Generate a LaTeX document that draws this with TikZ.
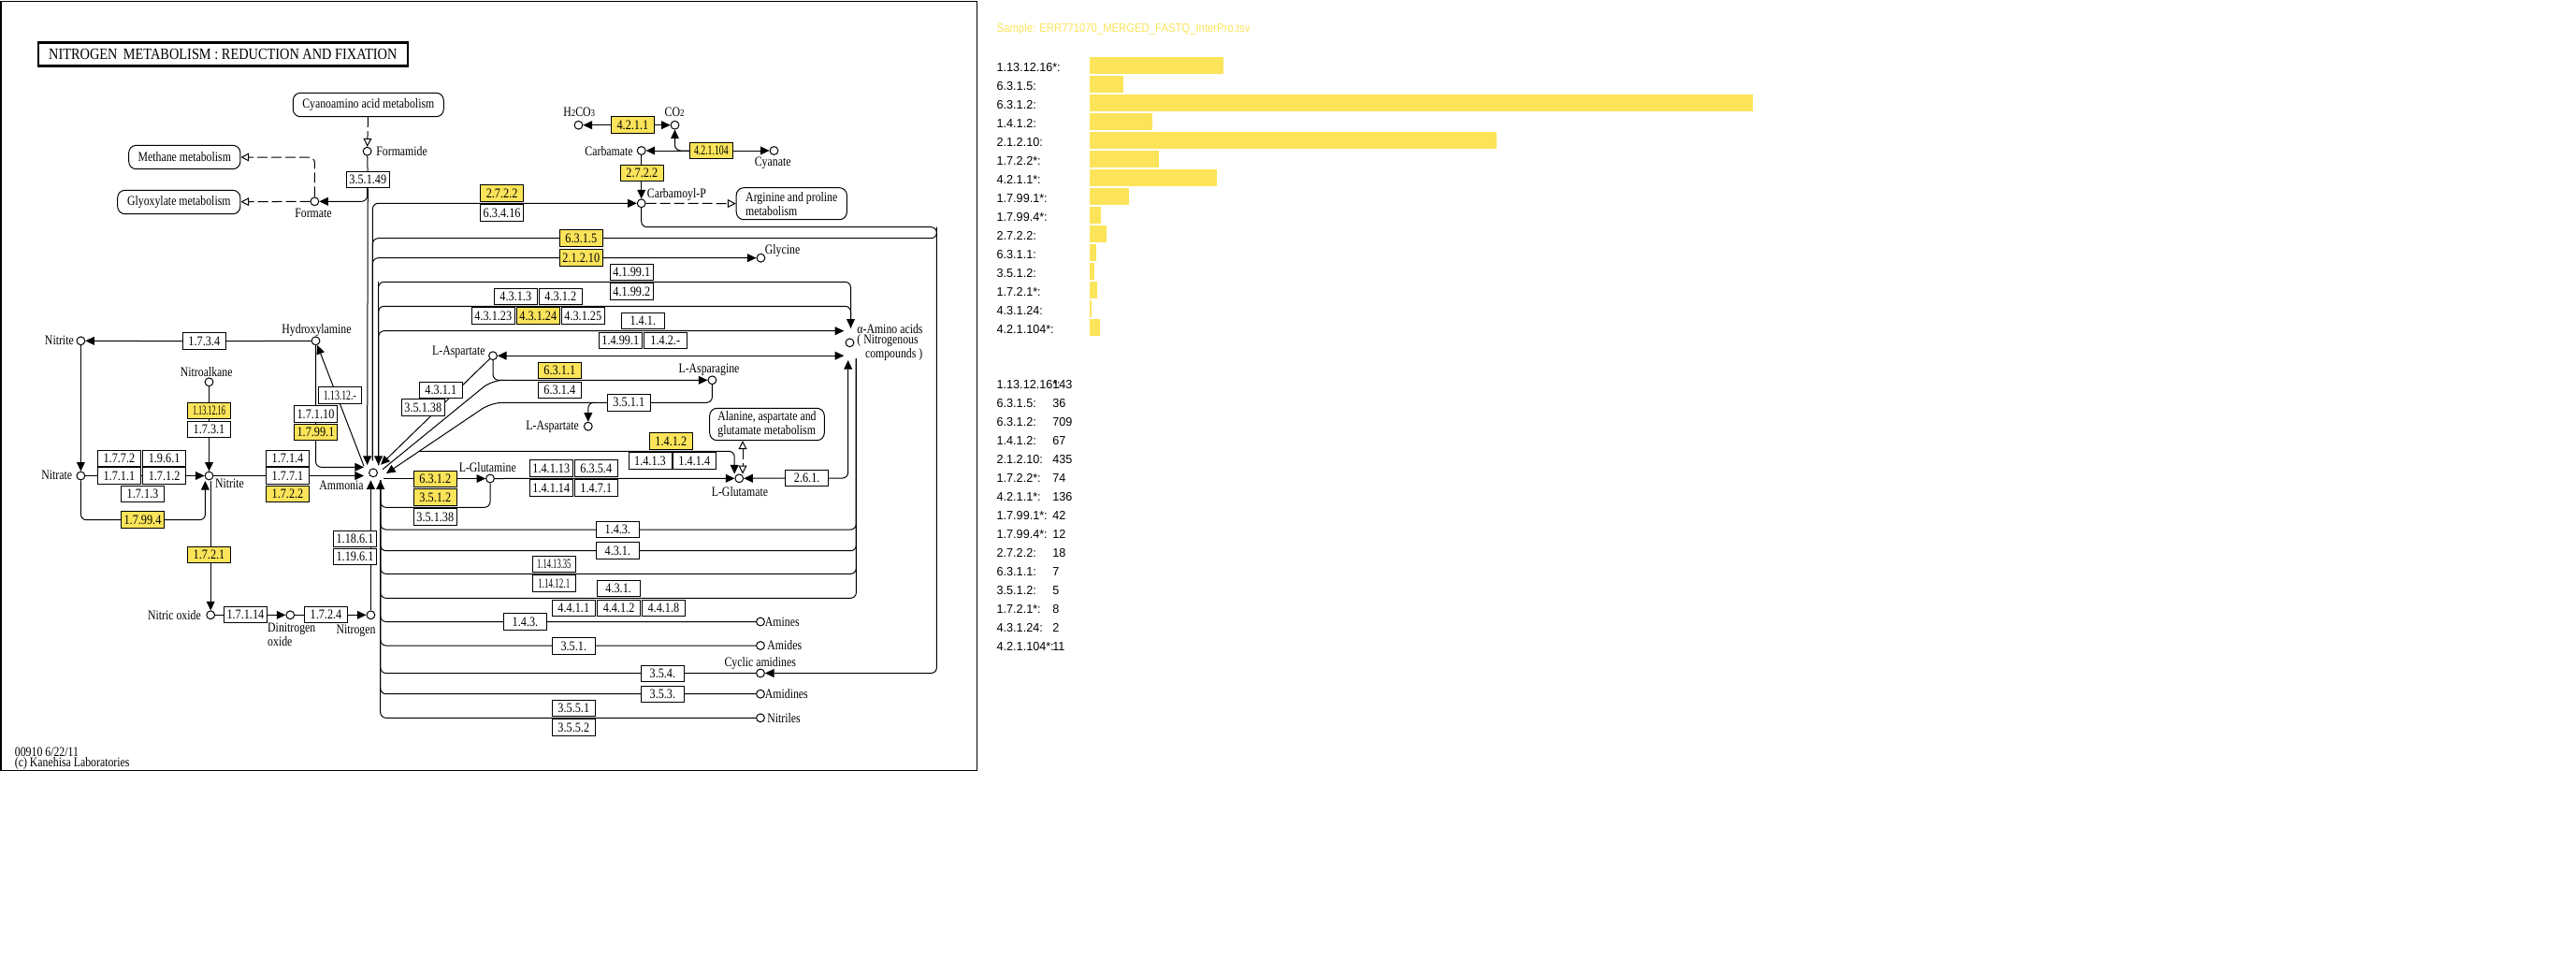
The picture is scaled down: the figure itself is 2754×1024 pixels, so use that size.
\documentclass[tikz,border=0pt]{standalone}
\usepackage{fontspec}
\setmainfont[FakeStretch=0.85]{Liberation Serif}
\newfontfamily\namefont[FakeStretch=0.82]{Liberation Serif}
\newfontfamily\panelfont[FakeStretch=0.87]{Liberation Sans}
\newfontfamily\codefont[FakeStretch=0.97]{Liberation Sans}
\usetikzlibrary{arrows.meta, backgrounds}
\definecolor{hitYellow}{RGB}{251, 228, 90}
\newcommand{\squeezed}[2]{\scalebox{#1}[1]{#2}}
\newcommand{\lowdigit}[1]{{\fontsize{5.4}{5.4}\selectfont #1}}
\tikzset{
    % Pathway boxes
    enzyme/.style={
        rectangle,
        draw=black,
        fill=white,
        line width=0.5pt,
        minimum width=23pt,
        minimum height=8.75pt,
        inner sep=0pt,
        font=\fontsize{7.2}{5.6}\selectfont
    },
    enzymeHit/.style={enzyme, fill=hitYellow},
    compound/.style={circle, draw=black, fill=white, line width=0.5pt, minimum size=4.4pt, inner sep=0pt},
    mapBox/.style={enzyme, rounded corners=4pt, minimum height=12.7pt, font=\namefont\fontsize{7.2}{5.6}\selectfont},
    nameText/.style={inner sep=0pt, font=\namefont\fontsize{7.2}{5.6}\selectfont},
    % Arrow styles
    line/.style={line width=0.5pt, rounded corners=3pt},
    arrow/.style={line, -{Triangle[length=4.8pt,width=4.4pt]}},
    both/.style={line, {Triangle[length=4.8pt,width=4.4pt]}-{Triangle[length=4.8pt,width=4.4pt]}},
    dashLine/.style={line, dash pattern=on 5.5pt off 2pt, -{Triangle[open,length=4.4pt,width=4.4pt,fill=white]}},
    % Side panel
    panelText/.style={inner sep=0pt, anchor=west, font=\codefont\fontsize{6.5}{6.5}\selectfont}
}
\begin{document}
\begin{tikzpicture}[x=0.5pt, y=-0.5pt]

    \useasboundingbox (0,0) rectangle (2754,1024);

    % --- FRAME AND TITLE ---
    \node (frame) [draw=black, line width=0.6pt, minimum width=521.7pt, minimum height=411.2pt, inner sep=0pt] at (522.7,412.4) {};
    \node (title) [draw=black, line width=1.3pt, minimum width=197.5pt, minimum height=12.4pt, inner sep=0pt, font=\fontsize{8.45}{8.45}\selectfont] at (238.3,58) {NITROGEN\, METABOLISM : REDUCTION AND FIXATION};
    \node (footer) [nameText, anchor=north west, align=left] at (15.5,798.5) {00910 6/22/11\\(c) Kanehisa Laboratories};

    % --- MAPS ---
    \node (cyanoMap) [mapBox, minimum width=80.5pt] at (393.8,112) {Cyanoamino acid metabolism};
    \node (methaneMap) [mapBox, minimum width=59.6pt] at (197.3,168) {Methane metabolism};
    \node (glyoxylateMap) [mapBox, minimum width=65.6pt] at (191.3,216) {Glyoxylate metabolism};
    \node (arginineMap) [mapBox, align=left, minimum width=59.1pt, minimum height=17pt] at (846.3,217.7) {Arginine and proline\\metabolism};
    \node (alanineMap) [mapBox, align=left, minimum width=61.3pt, minimum height=17.2pt] at (820,453.5) {Alanine, aspartate and\\glutamate metabolism};

    % --- COMPOUNDS ---
    \node (formamide) [compound] at (392.6,161.7) {};
    \node (formate) [compound] at (336.4,215.3) {};
    \node (nitriteA) [compound] at (86.4,364.3) {};
    \node (hydroxylamine) [compound] at (337.5,364.3) {};
    \node (nitroalkane) [compound] at (223.5,408.3) {};
    \node (aspartateA) [compound] at (527,380.2) {};
    \node (carbonicAcid) [compound] at (618.5,133.7) {};
    \node (carbonDioxide) [compound] at (721.5,133.7) {};
    \node (carbamate) [compound] at (685.7,161) {};
    \node (cyanate) [compound] at (827.5,161) {};
    \node (carbamoyl) [compound] at (685.7,217.3) {};
    \node (glycine) [compound] at (813.4,275.7) {};
    \node (aminoAcids) [compound] at (908.5,366.3) {};
    \node (asparagine) [compound] at (761.4,406.3) {};
    \node (aspartateB) [compound] at (628.8,455.7) {};
    \node (glutamate) [compound] at (790.3,511.3) {};
    \node (amines) [compound] at (813,664.5) {};
    \node (amides) [compound] at (813,690) {};
    \node (cyclicAmidines) [compound] at (813,719.5) {};
    \node (amidines) [compound] at (813,741.7) {};
    \node (nitriles) [compound] at (813,767.3) {};
    \node (nitrate) [compound] at (86.4,508.5) {};
    \node (nitriteB) [compound] at (223.5,508.5) {};
    \node (ammonia) [compound] at (399,505.3) {};
    \node (glutamine) [compound] at (524,511.5) {};
    \node (nitricOxide) [compound] at (225.2,657.3) {};
    \node (dinitrogenOxide) [compound] at (310.3,657.3) {};
    \node (nitrogen) [compound] at (396.4,657.3) {};

    % --- COMPOUND NAMES ---
    \node (tFormamide) [nameText, anchor=west] at (402,161.7) {Formamide};
    \node (tFormate) [nameText] at (335,228) {Formate};
    \node (tNitriteA) [nameText, anchor=east] at (79.2,364) {Nitrite};
    \node (tHydroxylamine) [nameText] at (338.5,352.7) {Hydroxylamine};
    \node (tNitroalkane) [nameText] at (220.7,397.7) {Nitroalkane};
    \node (tAspartateA) [nameText, anchor=east] at (519,376.7) {L-Aspartate};
    \node (tCarbonicAcid) [nameText] at (619.2,120) {H\lowdigit{2}CO\lowdigit{3}};
    \node (tCarbonDioxide) [nameText] at (721.1,120) {CO\lowdigit{2}};
    \node (tCarbamate) [nameText, anchor=east] at (677,161.7) {Carbamate};
    \node (tCyanate) [nameText] at (826.2,174) {Cyanate};
    \node (tCarbamoyl) [nameText, anchor=west] at (691.5,207.7) {Carbamoyl-P};
    \node (tGlycine) [nameText, anchor=west] at (817.5,268) {Glycine};
    \node (tAminoAcids) [nameText, anchor=west, align=left] at (916,366) {α-Amino acids\\( Nitrogenous\\\hspace*{4.3pt}compounds )};
    \node (tAsparagine) [nameText] at (758,395) {L-Asparagine};
    \node (tAspartateB) [nameText, anchor=east] at (619.2,456) {L-Aspartate};
    \node (tGlutamate) [nameText] at (791,526) {L-Glutamate};
    \node (tAmines) [nameText, anchor=west] at (817.5,664.7) {Amines};
    \node (tAmides) [nameText, anchor=west] at (820,690) {Amides};
    \node (tCyclicAmidines) [nameText] at (812.7,709) {Cyclic amidines};
    \node (tAmidines) [nameText, anchor=west] at (817.5,742) {Amidines};
    \node (tNitriles) [nameText, anchor=west] at (820,768) {Nitriles};
    \node (tNitrate) [nameText, anchor=east] at (77.5,507.7) {Nitrate};
    \node (tNitriteB) [nameText, anchor=west] at (229.7,516.7) {Nitrite};
    \node (tAmmonia) [nameText, anchor=east] at (389,519) {Ammonia};
    \node (tGlutamine) [nameText] at (521.3,499.7) {L-Glutamine};
    \node (tNitricOxide) [nameText, anchor=east] at (215.2,657.7) {Nitric oxide};
    \node (tDinitrogenOxide) [nameText, anchor=west, align=left] at (285.8,678.7) {Dinitrogen\\oxide};
    \node (tNitrogen) [nameText] at (380.5,674) {Nitrogen};

    % --- ENZYMES, LEFT ---
    \node (e351x49) [enzyme] at (393.3,192) {3.5.1.49};
    \node (e1734) [enzyme] at (218.3,364.7) {1.7.3.4};
    \node (e113x1216) [enzymeHit] at (223.5,439) {\squeezed{0.67}{1.13.12.16}};
    \node (e1731) [enzyme] at (223.5,459) {1.7.3.1};
    \node (e113x12) [enzyme] at (363.3,422.7) {\squeezed{0.8}{1.13.12.-}};
    \node (e171x10) [enzyme] at (337.5,442.7) {1.7.1.10};
    \node (e179x91) [enzymeHit] at (337.5,462) {1.7.99.1};
    \node (e1772) [enzyme] at (127.4,490) {1.7.7.2};
    \node (e1961) [enzyme] at (175.6,490) {1.9.6.1};
    \node (e1711) [enzyme] at (127.4,508.7) {1.7.1.1};
    \node (e1712) [enzyme] at (175.6,508.7) {1.7.1.2};
    \node (e1713) [enzyme] at (152.5,528) {1.7.1.3};
    \node (e179x94) [enzymeHit] at (152.5,555.7) {1.7.99.4};
    \node (e1714) [enzyme] at (307.5,490) {1.7.1.4};
    \node (e1771) [enzyme] at (307.5,508.7) {1.7.7.1};
    \node (e1722) [enzymeHit] at (307.5,528) {1.7.2.2};
    \node (e1721) [enzymeHit] at (223.5,593) {1.7.2.1};
    \node (e171x14) [enzyme] at (262.4,657) {1.7.1.14};
    \node (e1724) [enzyme] at (348.5,657) {1.7.2.4};
    \node (e118x61) [enzyme] at (379.5,576) {1.18.6.1};
    \node (e119x61) [enzyme] at (379.5,595) {1.19.6.1};

    % --- ENZYMES, TOP ---
    \node (e4211) [enzymeHit] at (676.4,133.7) {4.2.1.1};
    \node (e421x104) [enzymeHit] at (760.4,161) {\squeezed{0.8}{4.2.1.104}};
    \node (e2722a) [enzymeHit] at (686.3,185) {2.7.2.2};
    \node (e2722b) [enzymeHit] at (536.6,206.7) {2.7.2.2};
    \node (e634x16) [enzyme] at (536.6,227.7) {6.3.4.16};
    \node (e6315) [enzymeHit] at (621.3,254.7) {6.3.1.5};
    \node (e212x10) [enzymeHit] at (621.3,275.7) {2.1.2.10};

    % --- ENZYMES, MIDDLE ---
    \node (e419x91) [enzyme] at (675.3,291) {4.1.99.1};
    \node (e419x92) [enzyme] at (675.3,311.7) {4.1.99.2};
    \node (e4313) [enzyme] at (551.3,317) {4.3.1.3};
    \node (e4312) [enzyme] at (599.3,317) {4.3.1.2};
    \node (e431x23) [enzyme] at (527.3,337.7) {4.3.1.23};
    \node (e431x24) [enzymeHit] at (575.3,337.7) {4.3.1.24};
    \node (e431x25) [enzyme] at (623.3,337.7) {4.3.1.25};
    \node (e141) [enzyme] at (687.3,343) {1.4.1.};
    \node (e149x91) [enzyme] at (663.3,364) {1.4.99.1};
    \node (e142) [enzyme] at (711.3,364) {1.4.2.-};
    \node (e6311) [enzymeHit] at (598.3,396) {6.3.1.1};
    \node (e6314) [enzyme] at (598.3,417) {6.3.1.4};
    \node (e3511) [enzyme] at (672.3,430.3) {3.5.1.1};
    \node (e4311) [enzyme] at (471.3,417) {4.3.1.1};
    \node (e351x38a) [enzyme] at (452.3,435.7) {3.5.1.38};
    \node (e1412) [enzymeHit] at (717.3,471.7) {1.4.1.2};
    \node (e1413) [enzyme] at (695,492.7) {1.4.1.3};
    \node (e1414) [enzyme] at (742.3,492.7) {1.4.1.4};
    \node (e141x13) [enzyme] at (589.3,500.7) {1.4.1.13};
    \node (e6354) [enzyme] at (637.3,500.7) {6.3.5.4};
    \node (e141x14) [enzyme] at (589.3,521.7) {1.4.1.14};
    \node (e1471) [enzyme] at (637.3,521.7) {1.4.7.1};
    \node (e6312) [enzymeHit] at (465.3,512) {6.3.1.2};
    \node (e3512) [enzymeHit] at (465.3,531.7) {3.5.1.2};
    \node (e351x38b) [enzyme] at (465.3,552.7) {3.5.1.38};
    \node (e261) [enzyme] at (862.7,511) {2.6.1.};

    % --- ENZYMES, LOWER ROWS ---
    \node (e143a) [enzyme] at (660.4,566) {1.4.3.};
    \node (e431a) [enzyme] at (660.4,588.7) {4.3.1.};
    \node (e114x1335) [enzyme] at (592.3,603) {\squeezed{0.7}{1.14.13.35}};
    \node (e114x121) [enzyme] at (592.3,623.7) {\squeezed{0.74}{1.14.12.1}};
    \node (e431b) [enzyme] at (661.2,629) {4.3.1.};
    \node (e4411) [enzyme] at (613.3,650) {4.4.1.1};
    \node (e4412) [enzyme] at (661.6,650) {4.4.1.2};
    \node (e4418) [enzyme] at (709.4,650) {4.4.1.8};
    \node (e143b) [enzyme] at (561.5,664.7) {1.4.3.};
    \node (e351) [enzyme] at (613.3,690.7) {3.5.1.};
    \node (e354) [enzyme] at (708.4,720) {3.5.4.};
    \node (e353) [enzyme] at (708.4,742) {3.5.3.};
    \node (e3551) [enzyme] at (613.3,757) {3.5.5.1};
    \node (e3552) [enzyme] at (613.3,777.7) {3.5.5.2};

    % --- FREE ENDS ---
    \coordinate (trunkTip) at (392.6,497);
    \coordinate (busB) at (398.4,492);
    \coordinate (busC) at (404.6,497);
    \coordinate (busD) at (406.7,513.3);
    \coordinate (ammoniaWA) at (389,499.3);
    \coordinate (ammoniaWB) at (389,508.5);
    \coordinate (ammoniaNW) at (389,498);
    \coordinate (ammoniaNE) at (409,501.7);
    \coordinate (ammoniaNN) at (407,496.7);
    \coordinate (ammoniaSE) at (413,506);
    \coordinate (ammoniaE) at (410,511.5);
    \coordinate (ammoniaS) at (396.4,513.3);
    \coordinate (branchA) at (392.6,195);
    \coordinate (branchB) at (636,430.3);
    \coordinate (forkA) at (526,406.3);
    \coordinate (forkAend) at (540,406.3);
    \coordinate (forkB) at (525.3,430.3);
    \coordinate (forkC) at (448,482.3);
    \coordinate (glutamateTip) at (785.2,506.5);
    \coordinate (glutamateTipO) at (794,506.5);
    \coordinate (rowA) at (675.3,301.3);
    \coordinate (rowB) at (675.3,327.3);
    \coordinate (rowC) at (592.3,613.3);
    \coordinate (rowD) at (661,639.3);
    \coordinate (loopG) at (465.3,542.3);
    \coordinate (aminoTipN) at (909.5,350.7);
    \coordinate (aminoTipW) at (902.3,353.7);
    \coordinate (aminoTipM) at (902.3,380.2);
    \coordinate (aminoTipS) at (906.7,385);
    \coordinate (rimIn) at (915.4,383.3);
    \coordinate (rimOut) at (1001.4,242.7);
    \coordinate (nitriteTipS) at (219.4,514);
    \coordinate (nitriteDown) at (225.2,514);

    % --- Connectors ---
    \begin{scope}[on background layer]
        % Dashed links to other maps
        \draw [dashLine] (cyanoMap) -- (formamide);
        \draw [dashLine] (formate) |- (methaneMap);
        \draw [dashLine] (formate) -- (glyoxylateMap);
        \draw [dashLine] (carbamoyl) -- (arginineMap);
        \draw [dashLine, {Triangle[open,length=4.4pt,width=4.4pt,fill=white]}-{Triangle[open,length=4.4pt,width=4.4pt,fill=white]}] (alanineMap.south -| glutamateTipO) -- (glutamateTipO);

        % Left side
        \draw [line] (formamide) -- (e351x49);
        \draw [arrow] (e351x49) -- (trunkTip);
        \draw [arrow] (branchA) |- (formate);
        \draw [arrow] (e1734) -- (nitriteA);
        \draw [line] (hydroxylamine) -- (e1734);
        \draw [arrow] (nitriteA) -- (nitrate);
        \draw [arrow] (nitrate) -- (nitriteB);
        \draw [line] (nitrate) |- (e179x94);
        \draw [arrow] (e179x94) -| (nitriteTipS);
        \draw [arrow] (nitroalkane) -- (nitriteB);
        \draw [arrow] (nitriteB) -- (ammoniaWB);
        \draw [arrow] (hydroxylamine) |- (ammoniaWA);
        \draw [arrow] (ammoniaNW) -- (hydroxylamine);
        \draw [arrow] (nitriteDown) -- (nitricOxide);
        \draw [arrow] (nitricOxide) -- (dinitrogenOxide);
        \draw [arrow] (dinitrogenOxide) -- (nitrogen);
        \draw [arrow] (nitrogen) -- (ammoniaS);

        % Top group
        \draw [arrow] (e4211) -- (carbonicAcid);
        \draw [arrow] (e4211) -- (carbonDioxide);
        \draw [arrow] (e421x104) -- (carbamate);
        \draw [arrow] (e421x104) -- (cyanate);
        \draw [arrow] (e421x104) -| (carbonDioxide);
        \draw [arrow] (carbamate) -- (carbamoyl);
        \draw [arrow] (carbamoyl) |- (rimOut) |- (cyclicAmidines);

        % Upper rows out of the ammonia bundle
        \draw [arrow] (busB) |- (carbamoyl);
        \draw [line] (busB) |- (e6315) -| (rimOut);
        \draw [arrow] (busB) |- (glycine);
        \draw [arrow] (rowA) -| (aminoTipN);
        \draw [arrow] (rowA -| busC) -- (busC);
        \draw [line] (busC) |- (rowA);
        \draw [line] (busC) |- (rowB) -| (aminoTipN);
        \draw [arrow] (busC) |- (aminoTipW);
        \draw [both] (aspartateA) -- (aminoTipM);

        % Aspartate and asparagine
        \draw [arrow] (aspartateA) -- (ammoniaNN);
        \draw [arrow] (aspartateA) |- (asparagine);
        \draw [line, rounded corners=6pt] (ammoniaNE) -- (forkA) -- (forkAend);
        \draw [arrow, rounded corners=6pt] (e3511) -- (forkB) -- (ammoniaSE);
        \draw [line] (e3511) -| (asparagine);
        \draw [arrow] (branchB) -| (aspartateB);
        \draw [arrow] (forkC) -| (glutamateTip);

        % Glutamine and glutamate
        \draw [arrow] (ammoniaE) -- (glutamine);
        \draw [arrow] (glutamine) -- (glutamate);
        \draw [line] (glutamine) |- (loopG) -| (busD);
        \draw [arrow] (e261) -- (glutamate);
        \draw [arrow] (e261) -| (aminoTipS);

        % Lower rows
        \draw [line] (busD) |- (e143a) -| (rimIn);
        \draw [line] (busD) |- (e431a) -| (rimIn);
        \draw [line] (busD) |- (rowC) -| (rimIn);
        \draw [line] (busD) |- (rowD) -| (rimIn);
        \draw [line] (busD) |- (amines);
        \draw [line] (busD) |- (amides);
        \draw [line] (busD) |- (cyclicAmidines);
        \draw [line] (busD) |- (amidines);
        \draw [arrow] (nitriles) -| (busD);
    \end{scope}

    % --- SIDE PANEL ---
    \node (sample) [panelText, text=hitYellow, font=\panelfont\fontsize{6.5}{6.5}\selectfont] at (1065.3,30.7) {Sample: ERR771070\_MERGED\_FASTQ\_InterPro.tsv};
    \foreach \code/\val [count=\i from 0] in {1.13.12.16*:/143, 6.3.1.5:/36, 6.3.1.2:/709, 1.4.1.2:/67, 2.1.2.10:/435, 1.7.2.2*:/74, 4.2.1.1*:/136, 1.7.99.1*:/42, 1.7.99.4*:/12, 2.7.2.2:/18, 6.3.1.1:/7, 3.5.1.2:/5, 1.7.2.1*:/8, 4.3.1.24:/2, 4.2.1.104*:/11} {
        \fill [hitYellow] (1165,{61+20*\i}) rectangle ({1165+\val},{79+20*\i});
        \node (barName\i) [panelText] at (1065.3,{71.7+20*\i}) {\code};
        \node (listName\i) [panelText] at (1065.3,{410.7+20*\i}) {\code};
        \node (listValue\i) [panelText] at (1125,{410.7+20*\i}) {\val};
    }

\end{tikzpicture}
\end{document}
